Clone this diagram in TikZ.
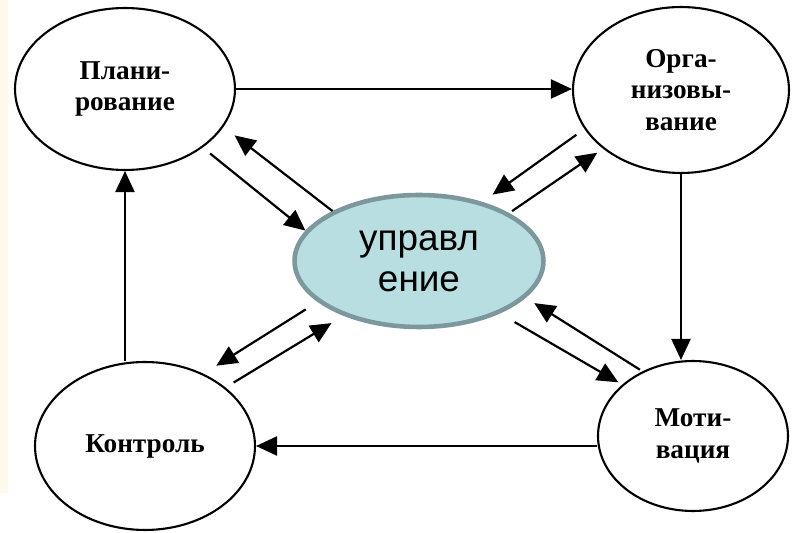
\documentclass[tikz,border=0pt]{standalone}
\usepackage{fontspec}
\setmainfont{Liberation Serif}
\newfontfamily\hubfont{Liberation Sans}
\usepackage{tikz}
\usetikzlibrary{arrows.meta,shapes.geometric,calc}
\definecolor{hubfill}{RGB}{185,222,226}
\definecolor{hubedge}{RGB}{125,152,156}
\definecolor{cream}{RGB}{255,249,236}
\tikzstyle{stage}=[ellipse,draw=black,line width=1.2pt,align=center,inner sep=0pt,font=\bfseries\fontsize{15.5}{17.8}\selectfont]
\tikzstyle{core}=[ellipse,draw=hubedge,fill=hubfill,line width=2.6pt,align=center,inner sep=0pt,font=\hubfont\fontsize{21}{23.5}\selectfont]
\tikzstyle{flow}=[-{Triangle[length=4.2mm,width=3.8mm]},line width=1.25pt,black]

\begin{document}
\begin{tikzpicture}[x=0.02cm,y=-0.02cm]
\useasboundingbox (0,0) rectangle (796,533);
\fill[cream] (0,0) rectangle (8,493);

    % the four functions and the centre
    \node[stage, minimum width=4.4cm, minimum height=3.24cm] (plan) at (125,89) {Плани-\\рование};
    \node[stage, minimum width=4.32cm, minimum height=3.32cm] (org) at (681,90) {Орга-\\низовы-\\вание};
    \node[stage, minimum width=4.4cm, minimum height=3.36cm] (ctrl) at (145,446) {Контроль};
    \node[stage, minimum width=3.8cm, minimum height=3cm] (mot) at (693,436) {Моти-\\вация};
    \node[core, minimum width=4.98cm, minimum height=2.64cm] (hub) at (419,261) {управл\\ение};

    % outer cycle
    \draw[flow] (plan.east) -- (plan.east -| org.west);
    \draw[flow] (org.south) -- (org.south |- mot.north);
    \draw[flow] (ctrl.east -| mot.west) -- (ctrl.east);
    \draw[flow] (ctrl.north -| plan.south) -- (plan.south);

    % paired arrows to and from the centre
    \foreach \src/\sa/\dst/\da/\sb/\se in {
        plan/-37/hub/165/0.19cm/0cm, hub/150/plan/-21/0cm/0.28cm,
        org/202/hub/43/0.2cm/0.25cm, hub/28/org/217/0.07cm/0.14cm,
        hub/202/ctrl/51/0.28cm/0.3cm, ctrl/36/hub/216/0.19cm/0.28cm,
        mot/128/hub/-19/0.06cm/0.2cm, hub/-33/mot/144/0.34cm/0.09cm}
        \draw[flow, shorten <=\sb, shorten >=\se] (\src.\sa) -- (\dst.\da);

\end{tikzpicture}
\end{document}
